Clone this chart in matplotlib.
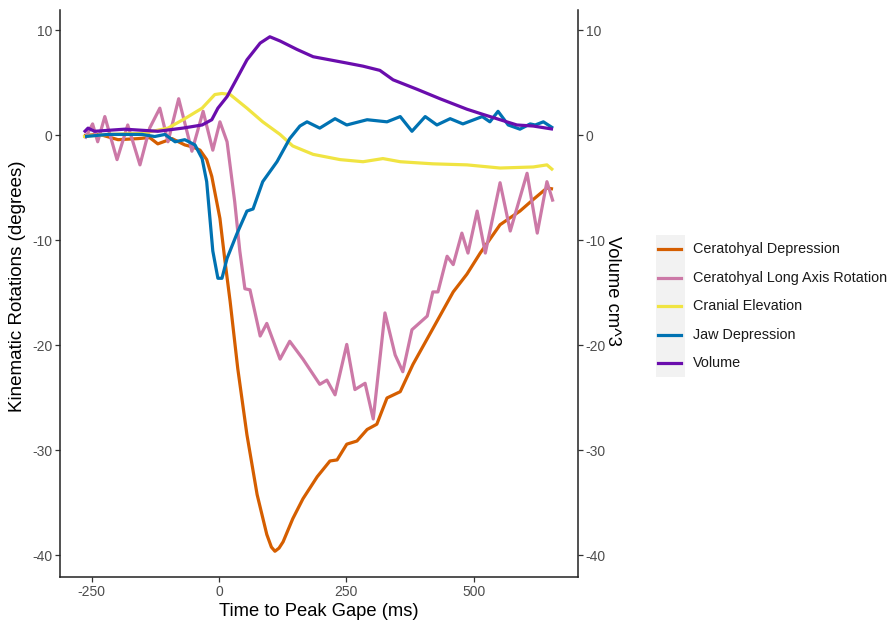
import numpy as np
import matplotlib.pyplot as plt
from matplotlib.lines import Line2D
from matplotlib.patches import Rectangle

plt.rcParams["font.family"] = ["Liberation Sans", "DejaVu Sans"]
plt.rcParams["axes.unicode_minus"] = False

# ─── Data ─────────────────────────────────────────────────────────────────────
cd_t = [-265, -234, -198, -159, -136, -120, -92, -67, -51, -37, -24, -14, 2, 12,
        22, 37, 55, 75, 94, 103, 110, 118, 126, 145, 165, 193, 218, 232, 251,
        271, 291, 310, 330, 356, 381, 420, 460, 487, 513, 552, 591, 617, 644,
        656]
cd_v = [0.0, 0.1, -0.4, -0.3, -0.2, -0.8, -0.3, -0.9, -1.1, -1.4, -2.3, -3.9,
        -7.9, -12.0, -15.8, -22.2, -28.5, -34.2, -38.0, -39.2, -39.6, -39.3,
        -38.7, -36.5, -34.6, -32.5, -31.0, -30.9, -29.4, -29.1, -28.0, -27.5,
        -25.0, -24.4, -21.8, -18.4, -14.9, -13.2, -11.2, -8.5, -7.2, -6.1, -5.0,
        -5.1]

lar_t = [-263, -248, -238, -224, -200, -179, -155, -136, -116, -100, -79, -53,
         -31, -12, 2, 16, 31, 41, 51, 61, 81, 94, 120, 139, 165, 198, 212, 228,
         251, 267, 287, 303, 326, 346, 361, 379, 409, 420, 430, 448, 460, 477,
         489, 507, 523, 552, 572, 605, 625, 644, 656]
lar_v = [-0.3, 1.1, -0.6, 1.8, -2.3, 1.0, -2.8, 0.7, 2.6, -0.6, 3.5, -1.5, 2.3,
         -1.4, 1.3, -0.6, -6.3, -11.0, -14.6, -14.7, -19.1, -17.9, -21.3, -19.6,
         -21.3, -23.7, -23.3, -24.7, -19.9, -24.2, -23.6, -27.0, -16.9, -20.9,
         -22.5, -18.5, -17.2, -14.9, -14.9, -11.5, -12.3, -9.3, -11.2, -7.2,
         -11.2, -4.5, -9.1, -3.6, -9.3, -4.4, -6.3]

ce_t = [-267, -218, -151, -100, -67, -33, -8, 6, 22, 55, 86, 120, 145, 185,
        238, 283, 322, 356, 420, 487, 552, 617, 644, 656]
ce_v = [-0.1, 0.1, 0.2, 0.7, 1.6, 2.6, 3.9, 4.0, 3.9, 2.6, 1.3, 0.1, -1.0,
        -1.8, -2.3, -2.5, -2.2, -2.5, -2.7, -2.8, -3.1, -3.0, -2.8, -3.3]

jd_t = [-263, -218, -151, -126, -106, -86, -67, -47, -33, -24, -12, -2, 6, 16,
        35, 55, 67, 86, 114, 139, 159, 173, 198, 228, 251, 291, 330, 356, 379,
        405, 428, 454, 479, 517, 532, 548, 568, 591, 611, 621, 637, 656]
jd_v = [-0.1, 0.1, 0.1, -0.1, 0.1, -0.6, -0.4, -0.9, -2.2, -4.4, -11.0, -13.6,
        -13.6, -11.7, -9.4, -7.2, -7.0, -4.4, -2.5, -0.3, 0.9, 1.3, 0.7, 1.6,
        1.0, 1.5, 1.3, 1.8, 0.4, 1.8, 1.0, 1.6, 1.1, 1.8, 1.3, 2.3, 1.0, 0.6,
        1.1, 1.0, 1.3, 0.7]

vol_t = [-265, -257, -244, -185, -120, -71, -33, -14, -2, 16, 35, 55, 81, 100,
         120, 153, 185, 218, 251, 283, 316, 342, 389, 434, 487, 519, 552, 585,
         617, 656]
vol_v = [0.3, 0.7, 0.4, 0.6, 0.4, 0.7, 1.0, 1.5, 2.6, 3.7, 5.4, 7.2, 8.8, 9.4,
         9.0, 8.2, 7.5, 7.2, 6.9, 6.6, 6.2, 5.3, 4.4, 3.5, 2.5, 2.0, 1.5, 1.0,
         0.9, 0.6]

SERIES = [
    ("Ceratohyal Depression",          cd_t,  cd_v,  "#D55E00"),
    ("Ceratohyal Long Axis Rotation",  lar_t, lar_v, "#CC79A7"),
    ("Cranial Elevation",              ce_t,  ce_v,  "#F0E442"),
    ("Jaw Depression",                 jd_t,  jd_v,  "#0072B2"),
    ("Volume",                         vol_t, vol_v, "#6A0DAD"),
]

X_TICKS = [-250, 0, 250, 500]
Y_TICKS = [10, 0, -10, -20, -30, -40]

# ─── Plot ─────────────────────────────────────────────────────────────────────
fig = plt.figure(figsize=(8.89, 6.2), dpi=100)
ax = fig.add_axes([60 / 889, 43 / 620, 518 / 889, 567 / 620])

for name, t, v, c in SERIES:
    ax.plot(t, v, color=c, lw=2.3, solid_joinstyle="round",
            solid_capstyle="butt")

ax.set_xlim(-312, 705)
ax.set_ylim(-42.05, 11.95)
ax.set_xticks(X_TICKS)
ax.set_yticks(Y_TICKS)

ax2 = ax.twinx()
ax2.set_ylim(ax.get_ylim())
ax2.set_yticks(Y_TICKS)

for a in (ax, ax2):
    a.spines["top"].set_visible(False)
    for s in a.spines.values():
        s.set_linewidth(1.1)
        s.set_color("#222222")
    a.tick_params(direction="out", length=3.5, width=0.9, color="#333333",
                  labelsize=10, labelcolor="#4D4D4D", pad=2)
ax2.spines["left"].set_visible(False)
ax2.spines["bottom"].set_visible(False)
ax.spines["right"].set_visible(False)

ax.set_xlabel("Time to Peak Gape (ms)", fontsize=13.2, labelpad=3)
ax.set_ylabel("Kinematic Rotations (degrees)", fontsize=13.5,
              va="center", ha="center")
ax.yaxis.set_label_coords(-0.082, 0.512)
ax2.set_ylabel("Volume cm^3", fontsize=13.2, rotation=270,
               va="center", ha="center")
ax2.yaxis.set_label_coords(1.066, 0.505)

# ─── Legend (ggplot style: grey key column) ───────────────────────────────────
fig.add_artist(Rectangle((656 / 889, 1 - 377 / 620), 29 / 889, 142 / 620,
                         transform=fig.transFigure, facecolor="#F2F2F2",
                         edgecolor="none"))
key_y = [249, 278, 306, 335, 363]
for (name, t, v, c), py in zip(SERIES, key_y):
    fy = 1 - py / 620
    fig.add_artist(Line2D([658 / 889, 681 / 889], [fy, fy], color=c, lw=2.3,
                          transform=fig.transFigure))
    fig.text(693 / 889, fy, name, fontsize=10.4, color="#1A1A1A",
             va="center", ha="left")

plt.savefig("out.png", dpi=100)
